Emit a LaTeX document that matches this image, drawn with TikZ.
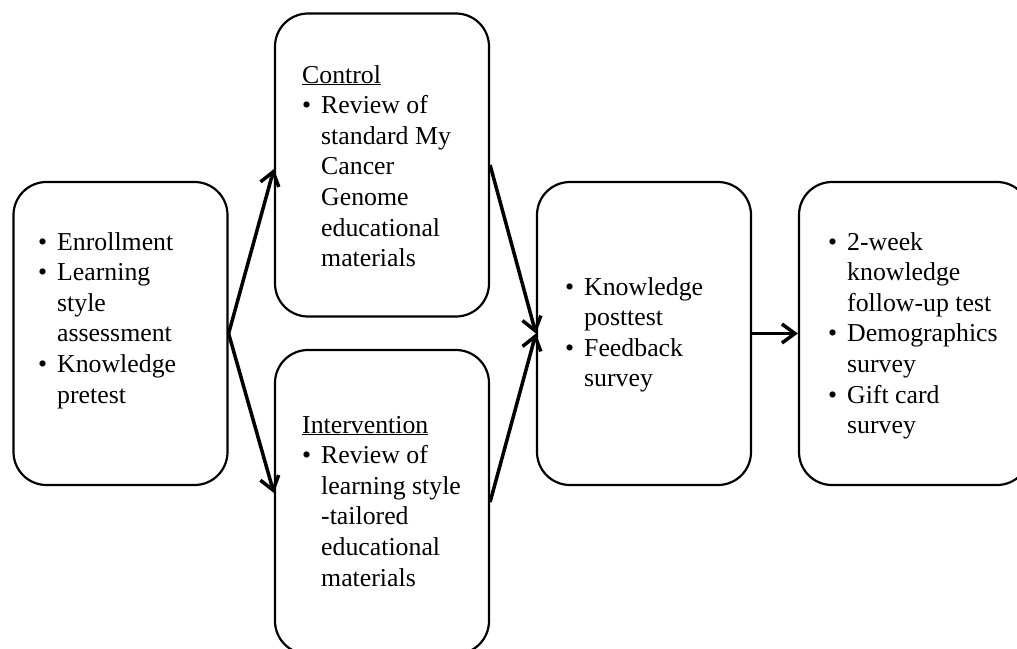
\documentclass[tikz,border=0pt]{standalone}
\usepackage{fontspec}
\setmainfont{Liberation Serif}
\usetikzlibrary{arrows.meta,calc}
\newcommand{\bul}{\makebox[19pt][l]{\textbullet}}
\newcommand{\ind}{\hspace*{19pt}}
\newcommand{\boxtext}[1]{\parbox[t]{260pt}{\fontsize{25.8}{30.6}\selectfont #1}}
\begin{document}
\begin{tikzpicture}[x=1pt,y=-1pt,
  stage/.style={draw=black, line width=2.2pt, rounded corners=33pt, minimum width=214pt, minimum height=303pt, inner sep=0pt},
  txt/.style={anchor=base west, inner sep=0pt, text=black},
  flow/.style={line width=3.5pt, -{Straight Barb[length=13pt,width=19pt,line width=3.5pt]}}]
\useasboundingbox (0,0) rectangle (1017,648);
\clip (0,0) rectangle (1017,648);
\node[stage] (b1) at (120.5,333.5) {};
\node[stage] (b2) at (382,165) {};
\node[stage, minimum height=304pt] (b3) at (382,502) {};
\node[stage] (b4) at (644,333.5) {};
\node[stage, minimum width=231pt] (b5) at (914.5,333.5) {};

\node[txt] (t1) at (38,250) {\boxtext{\bul Enrollment\\ \bul Learning\\ \ind style\\ \ind assessment\\ \bul Knowledge\\ \ind pretest}};
\node[txt] (t2) at (302,83) {\boxtext{\underline{Control}\\ \bul Review of\\ \ind standard My\\ \ind Cancer\\ \ind Genome\\ \ind educational\\ \ind materials}};
\node[txt] (t3) at (302,433) {\boxtext{\underline{Intervention}\\ \bul Review of\\ \ind learning style\\ \ind -tailored\\ \ind educational\\ \ind materials}};
\node[txt] (t4) at (565,295) {\boxtext{\bul Knowledge\\ \ind posttest\\ \bul Feedback\\ \ind survey}};
\node[txt] (t5) at (828,250) {\boxtext{\bul 2-week\\ \ind knowledge\\ \ind follow-up test\\ \bul Demographics\\ \ind survey\\ \bul Gift card\\ \ind survey}};

\draw[flow] (b1.east) -- ($(b2.west)+(0,4)$);
\draw[flow] (b1.east) -- ($(b3.west)+(0,-9)$);
\draw[flow] (b2.east) -- (b4.west);
\draw[flow] (b3.east) -- (b4.west);
\draw[flow] (b4.east) -- (b5.west);
\end{tikzpicture}
\end{document}
